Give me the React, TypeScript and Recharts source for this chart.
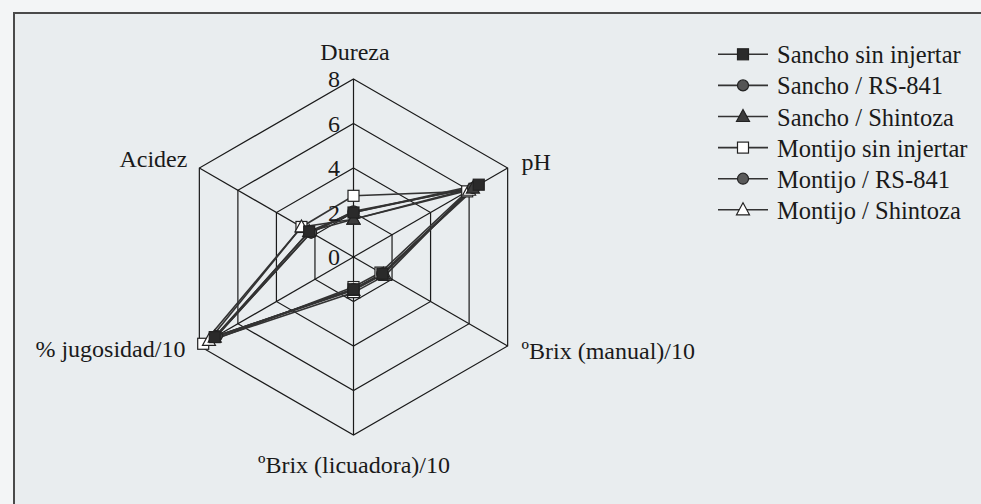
import { PolarAngleAxis, PolarGrid, PolarRadiusAxis, Radar, RadarChart } from "recharts";

const axes = ["Dureza", "pH", "ºBrix (manual)/10", "ºBrix (licuadora)/10", "% jugosidad/10", "Acidez"];
const radiusTicks = [0, 2, 4, 6, 8];

const sanchoSin = [2.0, 6.5, 1.5, 1.45, 7.2, 2.3];
const sanchoRs = [2.0, 6.3, 1.5, 1.45, 7.1, 2.2];
const sanchoShintoza = [1.7, 6.2, 1.55, 1.5, 7.2, 2.3];
const montijoSin = [2.75, 5.9, 1.4, 1.35, 7.8, 2.7];
const montijoRs = [2.05, 6.2, 1.5, 1.45, 7.1, 2.2];
const montijoShintoza = [1.7, 6.0, 1.65, 1.6, 7.5, 2.7];

type Marker = "square" | "circle" | "triangle";

const series: { key: string; name: string; values: number[]; marker: Marker; fill: string }[] = [
  { key: "montijoSin", name: "Montijo sin injertar", values: montijoSin, marker: "square", fill: "#ffffff" },
  { key: "montijoShintoza", name: "Montijo / Shintoza", values: montijoShintoza, marker: "triangle", fill: "#ffffff" },
  { key: "sanchoRs", name: "Sancho / RS-841", values: sanchoRs, marker: "circle", fill: "#555555" },
  { key: "montijoRs", name: "Montijo / RS-841", values: montijoRs, marker: "circle", fill: "#5a5a5a" },
  { key: "sanchoShintoza", name: "Sancho / Shintoza", values: sanchoShintoza, marker: "triangle", fill: "#3c3c3c" },
  { key: "sanchoSin", name: "Sancho sin injertar", values: sanchoSin, marker: "square", fill: "#2a2a2a" },
];

const legendOrder = ["sanchoSin", "sanchoRs", "sanchoShintoza", "montijoSin", "montijoRs", "montijoShintoza"];

const data = axes.map((axis, i) => {
  const row: Record<string, string | number> = { axis };
  series.forEach((s) => {
    row[s.key] = s.values[i];
  });
  return row;
});

const font = "Liberation Serif";

const labelStyle: Record<string, { anchor: "start" | "middle" | "end"; dx: number; dy: number }> = {
  Dureza: { anchor: "middle", dx: 1.5, dy: -11 },
  pH: { anchor: "start", dx: 7, dy: 6 },
  "ºBrix (manual)/10": { anchor: "start", dx: 7, dy: 9 },
  "ºBrix (licuadora)/10": { anchor: "middle", dx: 0.5, dy: 30 },
  "% jugosidad/10": { anchor: "end", dx: -7, dy: 7 },
  Acidez: { anchor: "end", dx: -5, dy: 3 },
};

function MarkerShape({ x, y, marker, fill }: { x: number; y: number; marker: Marker; fill: string }) {
  const stroke = "#222";
  if (marker === "square") {
    return <rect x={x - 5.5} y={y - 5.5} width={11} height={11} fill={fill} stroke={stroke} strokeWidth={1.2} />;
  }
  if (marker === "circle") {
    return <circle cx={x} cy={y} r={5.5} fill={fill} stroke={stroke} strokeWidth={1.2} />;
  }
  return (
    <polygon
      points={`${x},${y - 7} ${x + 6.5},${y + 5} ${x - 6.5},${y + 5}`}
      fill={fill}
      stroke={stroke}
      strokeWidth={1.2}
    />
  );
}

function AngleTick(props: any) {
  const { x, y, payload } = props;
  const s = labelStyle[payload.value] ?? { anchor: "middle", dx: 0, dy: 0 };
  return (
    <text x={x + s.dx} y={y + s.dy} textAnchor={s.anchor} style={{ fontFamily: font, fontSize: 24 }} fill="#1a1a1a">
      {payload.value}
    </text>
  );
}

function RadiusTick(props: any) {
  const { x, y, payload } = props;
  return (
    <text x={x - 13.5} y={y + 8} textAnchor="end" style={{ fontFamily: font, fontSize: 24 }} fill="#1a1a1a">
      {payload.value}
    </text>
  );
}

// frame (left and top edge only, the scan is cut on the right) plus the legend
function Overlay() {
  return (
    <svg width={981} height={504} style={{ position: "absolute", left: 0, top: 0, pointerEvents: "none" }}>
      <path d="M14 504 L14 13 L981 13" fill="none" stroke="#4a4a4a" strokeWidth={2} />
      {legendOrder.map((key, i) => {
        const s = series.find((item) => item.key === key)!;
        const baseline = 63.3 + i * 31.1;
        return (
          <g key={key}>
            <line x1={718} x2={768} y1={baseline - 9} y2={baseline - 9} stroke="#333" strokeWidth={1.6} />
            <MarkerShape x={743} y={baseline - 9} marker={s.marker} fill={s.fill} />
            <text x={777} y={baseline} style={{ fontFamily: font, fontSize: 24.5 }} fill="#1a1a1a">
              {s.name}
            </text>
          </g>
        );
      })}
    </svg>
  );
}

export default function App() {
  return (
    <div
      style={{
        position: "fixed",
        left: 0,
        top: 0,
        width: 981,
        height: 504,
        overflow: "hidden",
        background: "linear-gradient(to right, #f3f5f6 0 13px, #e9edef 13px)",
        fontFamily: font,
      }}
    >
      <div style={{ position: "absolute", left: 0, top: 0, width: 981, height: 13, background: "#f3f5f6" }} />
      <div style={{ position: "absolute", left: 0, top: 0 }}>
        <RadarChart
          width={981}
          height={504}
          data={data}
          cx={353.5}
          cy={257}
          outerRadius={178}
          margin={{ top: 0, right: 0, bottom: 0, left: 0 }}
        >
          <PolarGrid gridType="polygon" stroke="#1a1a1a" strokeWidth={1.2} />
          <PolarAngleAxis dataKey="axis" tick={<AngleTick />} tickLine={false} axisLine={false} />
          <PolarRadiusAxis
            angle={90}
            domain={[0, 8]}
            ticks={radiusTicks as any}
            tickCount={5}
            axisLine={false}
            tickLine={false}
            tick={<RadiusTick />}
          />
          {series.map((s) => (
            <Radar
              key={s.key}
              name={s.name}
              dataKey={s.key}
              stroke="#333333"
              strokeWidth={1.6}
              fill="none"
              fillOpacity={0}
              isAnimationActive={false}
              dot={(p: any) => (
                <MarkerShape key={`${s.key}-${p.index}`} x={p.cx} y={p.cy} marker={s.marker} fill={s.fill} />
              )}
            />
          ))}
        </RadarChart>
      </div>
      <Overlay />
    </div>
  );
}
